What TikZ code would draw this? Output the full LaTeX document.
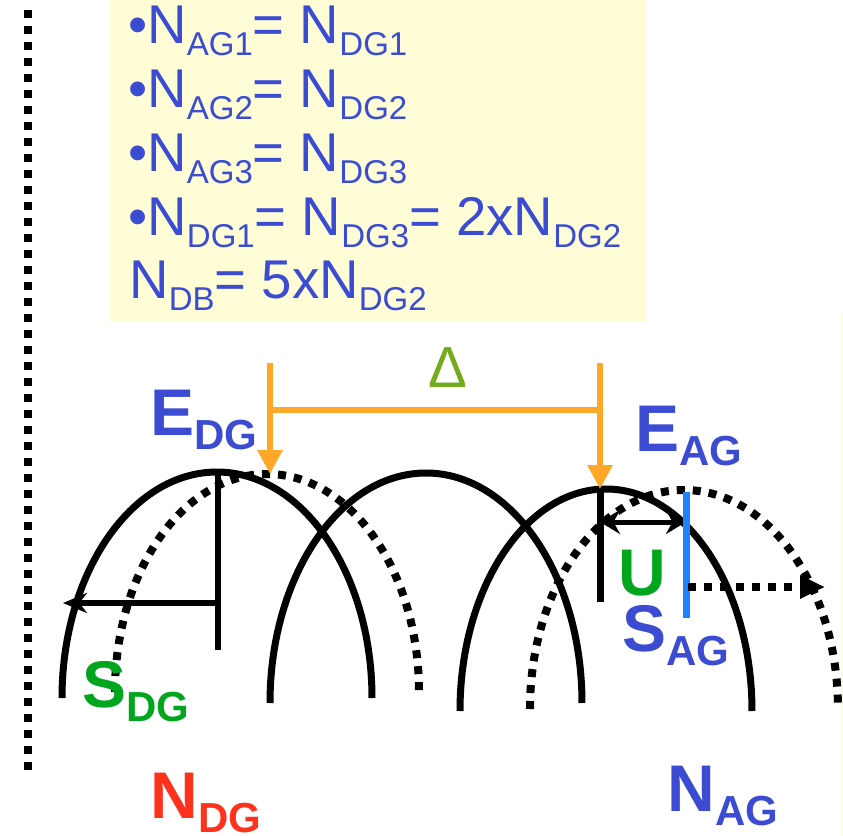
\documentclass[tikz,border=0pt]{standalone}
\usepackage{fontspec}
\setmainfont{Liberation Sans}
\usepackage{tikz}
\usetikzlibrary{arrows.meta}
\definecolor{myblue}{HTML}{3B4CD3}
\definecolor{mygreen}{HTML}{00A51E}
\definecolor{myred}{HTML}{FF321E}
\definecolor{myolive}{HTML}{73AA1E}
\definecolor{myorange}{HTML}{FFA726}
\definecolor{mysky}{HTML}{1E82FF}
\definecolor{myyellow}{HTML}{FFFDD6}
\newcommand{\boxsub}[1]{\raisebox{-6pt}{\fontsize{16.5}{16.5}\selectfont #1}}
\newcommand{\lblsub}[1]{\raisebox{-7pt}{\fontsize{21}{21}\selectfont\bfseries #1}}

\begin{document}
\begin{tikzpicture}[
  x=0.5pt, y=-0.5pt,
  boxline/.style={anchor=base west, inner sep=0pt, text=myblue, font=\fontsize{27.3}{32}\selectfont},
  lbl/.style={anchor=base west, inner sep=0pt, font=\fontsize{33}{33}\selectfont\bfseries},
  solidarc/.style={line width=3.5pt},
  dotline/.style={line width=4pt, dash pattern=on 4pt off 4pt},
  orangeln/.style={draw=myorange, line width=3.3pt},
  orangearr/.style={orangeln, -{Triangle[length=12pt, width=12pt]}},
  blackarr/.style={line width=3pt, -{Stealth[length=12pt, width=10pt]}},
]
\useasboundingbox (0,0) rectangle (843,836);

\fill[myyellow] (110,0) rectangle (646,321);
\fill[myyellow] (841,313) rectangle (843,836);
\draw[dotline] (27.5,10) -- (27.5,770);

\node[boxline] (l1) at (128,43) {•N\boxsub{AG1}= N\boxsub{DG1}};
\node[boxline] (l2) at (128,107) {•N\boxsub{AG2}= N\boxsub{DG2}};
\node[boxline] (l3) at (128,171) {•N\boxsub{AG3}= N\boxsub{DG3}};
\node[boxline] (l4) at (128,235) {•N\boxsub{DG1}= N\boxsub{DG3}= 2xN\boxsub{DG2}};
\node[boxline] (l5) at (129,298) {N\boxsub{DB}= 5xN\boxsub{DG2}};

% gaussians
\draw[solidarc] (62,698) arc[start angle=180, end angle=360, x radius=155, y radius=226];
\draw[solidarc] (270,703) arc[start angle=180, end angle=360, x radius=156, y radius=230];
\draw[solidarc] (460,711) arc[start angle=180, end angle=360, x radius=146, y radius=222];
\draw[dotline] (115,692) arc[start angle=180, end angle=360, x radius=152, y radius=218];
\draw[dotline] (530,709) arc[start angle=180, end angle=360, x radius=154, y radius=219];

% delta bracket
\coordinate (dtop) at (270,363);
\coordinate (dbar) at (270,410);
\coordinate (dtip) at (270,474);
\coordinate (atop) at (600,363);
\coordinate (abar) at (600,410);
\coordinate (atip) at (600,489);
\draw[orangearr] (dtop) -- (dtip);
\draw[orangearr] (atop) -- (atip);
\draw[orangeln] (dbar) -- (abar);
\node[anchor=base, inner sep=0pt, text=myolive, font=\fontsize{29}{29}\selectfont] (delta) at (448,387) {Δ};

% donor side
\coordinate (dpk) at (218,472);
\coordinate (dlow) at (218,650);
\coordinate (sdg0) at (218,603);
\coordinate (sdg1) at (63,603);
\draw[line width=3pt] (dpk) -- (dlow);
\draw[blackarr] (sdg0) -- (sdg1);

% acceptor side
\coordinate (apk) at (600,489);
\coordinate (alow) at (600,602);
\coordinate (u0) at (600,522);
\coordinate (u1) at (686,522);
\coordinate (s0) at (686,492);
\coordinate (s1) at (686,618);
\coordinate (sh0) at (688,587);
\coordinate (sh1) at (825,587);
\draw[line width=3.5pt] (apk) -- (alow);
\draw[line width=2.5pt, {Stealth[length=10pt, width=12pt]}-{Stealth[length=10pt, width=12pt]}] (u0) -- (u1);
\draw[draw=mysky, line width=3.5pt] (s0) -- (s1);
\draw[dotline, -{Triangle[length=12.5pt, width=11pt]}] (sh0) -- (sh1);

\node[lbl, text=myblue] (edg) at (150,435) {E\lblsub{DG}};
\node[lbl, text=myblue] (eag) at (635,451) {E\lblsub{AG}};
\node[lbl, text=mygreen] (sdg) at (82,707) {S\lblsub{DG}};
\node[lbl, text=myred] (ndg) at (150,818) {N\lblsub{DG}};
\node[lbl, text=myblue] (nag) at (667,811) {N\lblsub{AG}};
\node[lbl, text=mygreen] (u) at (618,595) {U};
\node[lbl, text=myblue] (sag) at (622,651) {S\lblsub{AG}};
\end{tikzpicture}
\end{document}
